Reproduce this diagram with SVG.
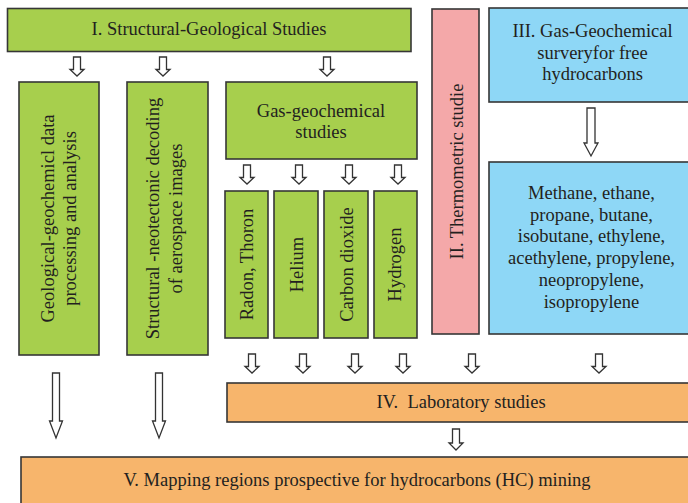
<svg xmlns="http://www.w3.org/2000/svg" width="688" height="503" viewBox="0 0 688 503">
<style>
.box{stroke:#363636;stroke-width:1.6}
.g{fill:#a7cf4d}
.p{fill:#f4a8a9}
.b{fill:#8ed7f6}
.o{fill:#f7b56c}
.t{font-family:"Liberation Serif","Times New Roman",serif;font-size:18.5px;fill:#231f20;text-anchor:middle}
.ar{fill:#fff;stroke:#333;stroke-width:1.3;stroke-linejoin:miter}
</style>
<defs>
<path id="sa" d="M-3.5,0 H3.5 V12.5 H7 L0,19 L-7,12.5 H-3.5 Z"/>
</defs>
<rect width="688" height="503" fill="#fff"/>

<g id="n1"><rect class="box g" x="7.5" y="8.5" width="403.5" height="43"/><text class="t" x="209" y="35">I. Structural-Geological Studies</text></g>

<g id="n2"><rect class="box g" x="19" y="82" width="80" height="273"/>
<text class="t" transform="translate(53.5,218.5) rotate(-90)">Geological-geochemicl data</text>
<text class="t" transform="translate(75.5,218.5) rotate(-90)">processing and analysis</text></g>

<g id="n3"><rect class="box g" x="127" y="82" width="81" height="273"/>
<text class="t" transform="translate(159,218.5) rotate(-90)">Structural -neotectonic decoding</text>
<text class="t" transform="translate(182,218.5) rotate(-90)">of aerospace images</text></g>

<g id="n4"><rect class="box g" x="226" y="82" width="191" height="77"/>
<text class="t" x="321" y="116.5">Gas-geochemical</text>
<text class="t" x="321" y="137.5">studies</text></g>

<g id="n5"><rect class="box g" x="225" y="191" width="43" height="147"/>
<text class="t" transform="translate(252.5,264.5) rotate(-90)">Radon, Thoron</text></g>
<g id="n6"><rect class="box g" x="274" y="191" width="44" height="147"/>
<text class="t" transform="translate(302.5,264.5) rotate(-90)">Helium</text></g>
<g id="n7"><rect class="box g" x="324" y="191" width="44" height="147"/>
<text class="t" transform="translate(352.5,264.5) rotate(-90)">Carbon dioxide</text></g>
<g id="n8"><rect class="box g" x="374" y="191" width="43" height="147"/>
<text class="t" transform="translate(401,264.5) rotate(-90)">Hydrogen</text></g>

<g id="n9"><rect class="box p" x="432" y="9" width="47" height="325"/>
<text class="t" transform="translate(462.5,171.5) rotate(-90)">II. Thermometric studie</text></g>

<g id="n10"><rect class="box b" x="489" y="8" width="202" height="94"/>
<text class="t" x="592.5" y="37">III. Gas-Geochemical</text>
<text class="t" x="592.5" y="58.5">surveryfor free</text>
<text class="t" x="592.5" y="80">hydrocarbons</text></g>

<g id="n11"><rect class="box b" x="489" y="162" width="202" height="172"/>
<text class="t" x="591.5" y="199">Methane, ethane,</text>
<text class="t" x="591.5" y="220.7">propane, butane,</text>
<text class="t" x="591.5" y="242.4">isobutane, ethylene,</text>
<text class="t" x="591.5" y="264.1">acethylene, propylene,</text>
<text class="t" x="591.5" y="285.8">neopropylene,</text>
<text class="t" x="591.5" y="307.5">isopropylene</text></g>

<g id="n12"><rect class="box o" x="227" y="383" width="464" height="39"/>
<text class="t" x="461" y="407.5" xml:space="preserve">IV.  Laboratory studies</text></g>

<g id="n13"><rect class="box o" x="21" y="457" width="670" height="50"/>
<text class="t" x="357" y="486">V. Mapping regions prospective for hydrocarbons (HC) mining</text></g>

<g id="connectors">
<use href="#sa" class="ar" x="77" y="57"/>
<use href="#sa" class="ar" x="163" y="57"/>
<use href="#sa" class="ar" x="327" y="57"/>
<use href="#sa" class="ar" x="247" y="165"/>
<use href="#sa" class="ar" x="299" y="165"/>
<use href="#sa" class="ar" x="349" y="165"/>
<use href="#sa" class="ar" x="398" y="165"/>
<use href="#sa" class="ar" x="252" y="354"/>
<use href="#sa" class="ar" x="303" y="354"/>
<use href="#sa" class="ar" x="355" y="354"/>
<use href="#sa" class="ar" x="403" y="354"/>
<use href="#sa" class="ar" x="472" y="354"/>
<use href="#sa" class="ar" x="599" y="354"/>
<path class="ar" d="M452.5,429 H459.5 V443 H463 L456,450 L449,443 H452.5 Z"/>
<path class="ar" d="M587,108 H595 V143 H598 L591,156 L584,143 H587 Z"/>
<path class="ar" d="M52.5,373 H59.5 V421 H62.5 L56,438 L49.5,421 H52.5 Z"/>
<path class="ar" d="M155.5,373 H162.5 V421 H165.5 L159,438 L152.5,421 H155.5 Z"/>
</g>
</svg>
